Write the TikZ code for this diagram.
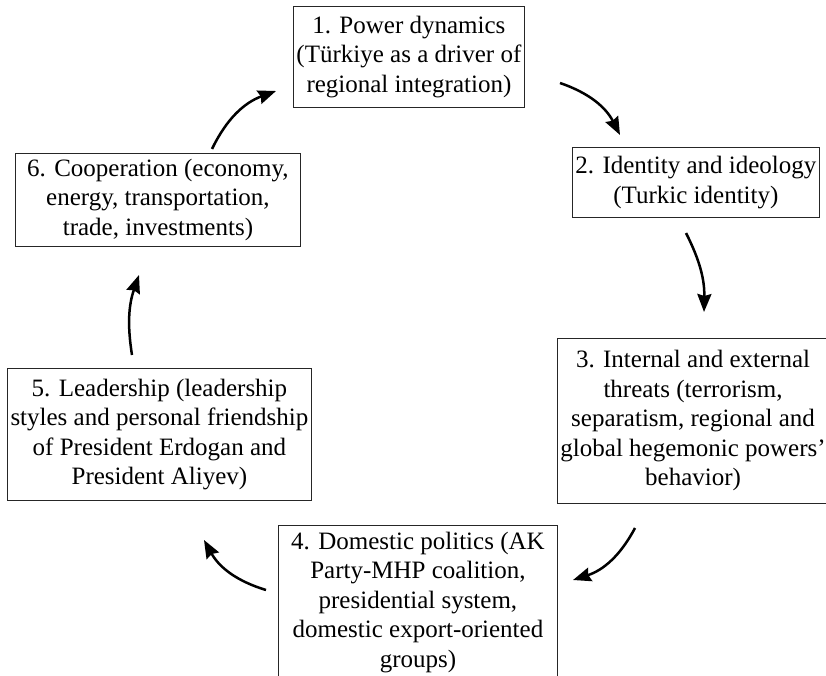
\documentclass[tikz,border=0pt]{standalone}
\usepackage{fontspec}
\setmainfont{Liberation Serif}
\usetikzlibrary{arrows.meta,positioning}

\begin{document}
\begin{tikzpicture}[x=1pt,y=1pt,
  factor/.style={draw=black!85, line width=0.9pt, align=center, anchor=north west,
    inner xsep=3pt, inner ysep=0pt, font=\fontsize{25}{29.5}\selectfont},
  flow/.style={line width=2.5pt, -{Stealth[length=18pt,width=14pt,inset=2pt]}}]
\useasboundingbox (0,0) rectangle (826,675);
% the six factors, clockwise from the top
\node[factor, minimum height=101] (pow) at (293,669)
  {1. Power dynamics\\(Türkiye as a driver of\\regional integration)};
\node[factor, minimum height=70] (ident) at (572,528)
  {2. Identity and ideology\\(Turkic identity)};
\node[factor, minimum height=165] (threat) at (557,337)
  {3. Internal and external\\threats (terrorism,\\separatism, regional and\\global hegemonic powers'\\behavior)};
\node[factor, minimum width=279, minimum height=154] (dom) at (278,150)
  {4. Domestic politics (AK\\Party-MHP coalition,\\presidential system,\\domestic export-oriented\\groups)};
\node[factor, minimum width=304, minimum height=132] (lead) at (7,307)
  {5. Leadership (leadership\\styles and personal friendship\\of President Erdogan and\\President Aliyev)};
\node[factor, minimum width=285, minimum height=93] (coop) at (15,522)
  {6. Cooperation (economy,\\energy, transportation,\\trade, investments)};
% arrow ends
\coordinate (t12) at (560,592);  \coordinate (h12) at (620,540);
\coordinate (t23) at (686,442);  \coordinate (h23) at (704,363);
\coordinate (t34) at (635,147);  \coordinate (h34) at (573,95);
\coordinate (t45) at (266,85);   \coordinate (h45) at (204,135);
\coordinate (t56) at (132,320);  \coordinate (h56) at (139,400);
\coordinate (t61) at (212,526);  \coordinate (h61) at (276,584);
\draw[flow] (t12) to[bend left=22] (h12);
\draw[flow] (t23) to[bend left=14] (h23);
\draw[flow] (t34) to[bend left=22] (h34);
\draw[flow] (t45) to[bend left=22] (h45);
\draw[flow] (t56) to[bend left=14] (h56);
\draw[flow] (t61) to[bend left=22] (h61);
\end{tikzpicture}
\end{document}
